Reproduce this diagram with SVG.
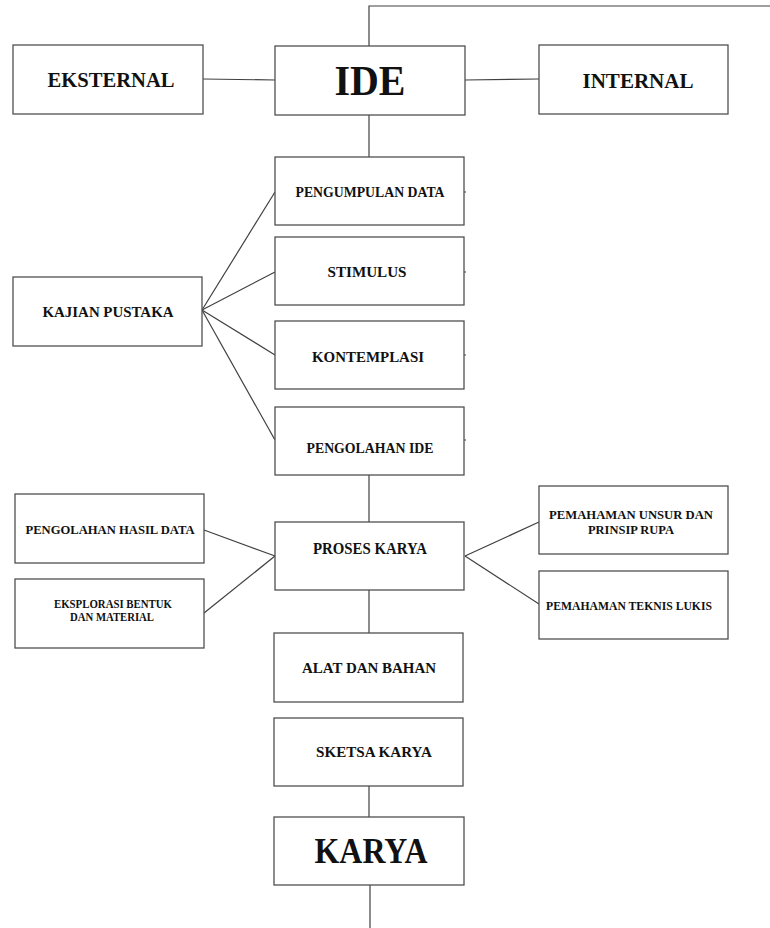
<svg xmlns="http://www.w3.org/2000/svg" width="770" height="928" viewBox="0 0 770 928">
<style>
.box{fill:#fff;stroke:#505050;stroke-width:1.3}
.ln{fill:none;stroke:#404040;stroke-width:1.2}
text{font-family:"Liberation Serif","Times New Roman",serif;font-weight:bold;fill:#111;text-anchor:middle}
.s14{font-size:15.5px}
.s12{font-size:13.5px}
.s11{font-size:12px}
</style>
<rect width="770" height="928" fill="#fff"/>
<g id="connectors">
<polyline class="ln" points="369,46 369,6 770,6"/>
<line class="ln" x1="203" y1="79" x2="275" y2="80"/>
<line class="ln" x1="465" y1="80" x2="539" y2="79"/>
<line class="ln" x1="369" y1="115" x2="369" y2="157"/>
<line class="ln" x1="202" y1="310" x2="275" y2="192"/>
<line class="ln" x1="202" y1="310" x2="275" y2="272"/>
<line class="ln" x1="202" y1="310" x2="275" y2="355"/>
<line class="ln" x1="202" y1="310" x2="275" y2="440"/>
<line class="ln" x1="369" y1="475" x2="369" y2="522"/>
<line class="ln" x1="204" y1="530" x2="275" y2="556"/>
<line class="ln" x1="204" y1="613" x2="275" y2="556"/>
<line class="ln" x1="465" y1="556" x2="539" y2="522"/>
<line class="ln" x1="465" y1="556" x2="539" y2="604"/>
<line class="ln" x1="369" y1="590" x2="369" y2="633"/>
<line class="ln" x1="369" y1="786" x2="369" y2="817"/>
<line class="ln" x1="370" y1="885" x2="370" y2="928"/>
<line class="ln" x1="464" y1="192" x2="466" y2="192"/>
<line class="ln" x1="464" y1="272" x2="466" y2="272"/>
<line class="ln" x1="464" y1="355" x2="466" y2="355"/>
<line class="ln" x1="464" y1="440" x2="466" y2="440"/>
</g>
<g id="eksternal"><rect class="box" x="13" y="45" width="190" height="69"/><text x="111" y="87" font-size="22" textLength="127" lengthAdjust="spacingAndGlyphs">EKSTERNAL</text></g>
<g id="ide"><rect class="box" x="275" y="46" width="190" height="69"/><text x="370" y="95" font-size="43" textLength="71" lengthAdjust="spacingAndGlyphs">IDE</text></g>
<g id="internal"><rect class="box" x="539" y="45" width="189" height="69"/><text x="638" y="88" font-size="22" textLength="111" lengthAdjust="spacingAndGlyphs">INTERNAL</text></g>
<g id="pengumpulan"><rect class="box" x="275" y="157" width="189" height="68"/><text class="s14" x="370" y="197" textLength="149" lengthAdjust="spacingAndGlyphs">PENGUMPULAN DATA</text></g>
<g id="stimulus"><rect class="box" x="275" y="237" width="189" height="68"/><text class="s14" x="367" y="277" textLength="79" lengthAdjust="spacingAndGlyphs">STIMULUS</text></g>
<g id="kontemplasi"><rect class="box" x="275" y="321" width="189" height="68"/><text class="s14" x="368" y="362" textLength="112" lengthAdjust="spacingAndGlyphs">KONTEMPLASI</text></g>
<g id="pengolahan-ide"><rect class="box" x="275" y="407" width="189" height="68"/><text class="s14" x="370" y="453" textLength="127" lengthAdjust="spacingAndGlyphs">PENGOLAHAN IDE</text></g>
<g id="kajian"><rect class="box" x="13" y="277" width="189" height="69"/><text class="s14" x="108" y="317" textLength="131" lengthAdjust="spacingAndGlyphs">KAJIAN PUSTAKA</text></g>
<g id="pengolahan-hasil"><rect class="box" x="15" y="494" width="189" height="69"/><text class="s12" x="110" y="534" textLength="169" lengthAdjust="spacingAndGlyphs">PENGOLAHAN HASIL DATA</text></g>
<g id="eksplorasi"><rect class="box" x="15" y="579" width="189" height="69"/><text class="s11" x="113" y="608" textLength="118" lengthAdjust="spacingAndGlyphs">EKSPLORASI BENTUK</text><text class="s11" x="112" y="621" textLength="84" lengthAdjust="spacingAndGlyphs">DAN MATERIAL</text></g>
<g id="proses"><rect class="box" x="275" y="522" width="189" height="68"/><text x="370" y="554" font-size="16.5" textLength="114" lengthAdjust="spacingAndGlyphs">PROSES KARYA</text></g>
<g id="unsur"><rect class="box" x="539" y="486" width="189" height="68"/><text class="s12" x="631" y="519" textLength="164" lengthAdjust="spacingAndGlyphs">PEMAHAMAN UNSUR DAN</text><text class="s12" x="631" y="534" textLength="86" lengthAdjust="spacingAndGlyphs">PRINSIP RUPA</text></g>
<g id="teknis"><rect class="box" x="539" y="571" width="189" height="68"/><text class="s12" x="629" y="610" textLength="166" lengthAdjust="spacingAndGlyphs">PEMAHAMAN TEKNIS LUKIS</text></g>
<g id="alat"><rect class="box" x="274" y="633" width="189" height="69"/><text class="s14" x="369" y="673" textLength="134" lengthAdjust="spacingAndGlyphs">ALAT DAN BAHAN</text></g>
<g id="sketsa"><rect class="box" x="274" y="718" width="189" height="68"/><text class="s14" x="374" y="757" textLength="116" lengthAdjust="spacingAndGlyphs">SKETSA KARYA</text></g>
<g id="karya"><rect class="box" x="274" y="817" width="190" height="68"/><text x="371" y="863" font-size="36" textLength="113" lengthAdjust="spacingAndGlyphs">KARYA</text></g>
</svg>
